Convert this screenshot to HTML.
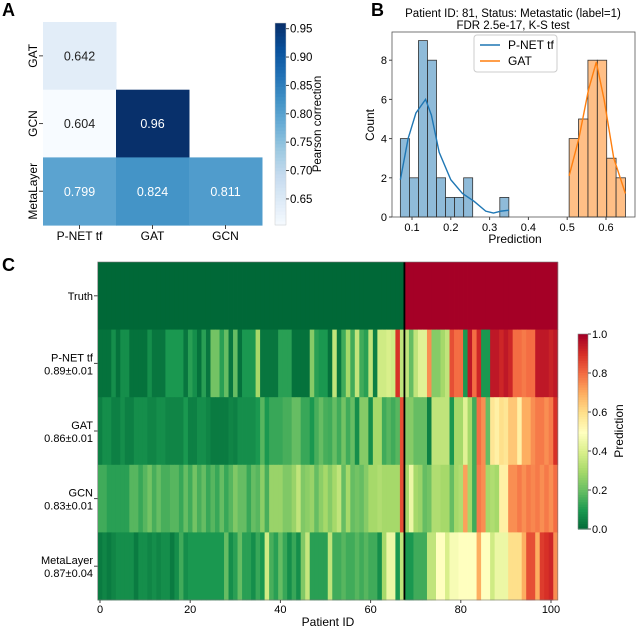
<!DOCTYPE html>
<html><head><meta charset="utf-8"><style>
html,body{margin:0;padding:0;background:#fff}
svg{display:block;font-family:"Liberation Sans",Arial,sans-serif}
</style></head><body>
<svg id="fig" width="640" height="628" viewBox="0 0 640 628"></svg>
<script>
// ---------- Panel A data ----------
const corrRows = ["GAT","GCN","MetaLayer"];
const corrCols = ["P-NET tf","GAT","GCN"];
const corrVals = [[0.642,null,null],[0.604,0.96,null],[0.799,0.824,0.811]];
const corrTicks = [0.65,0.70,0.75,0.80,0.85,0.90,0.95];
// ---------- Panel B data ----------
const pnetBinStart = 0.07, pnetBinW = 0.0233;
const pnetCounts = [4,2,9,8,2,1,1,2,0,0,0,1];
const gatBinStart = 0.505, gatBinW = 0.0242;
const gatCounts = [4,5,8,8,3,2];
const pnetKdeX = [0.07,0.09,0.11,0.135,0.15,0.17,0.2,0.23,0.26,0.29,0.31,0.33,0.35];
const pnetKdeY = [1.9,4.0,5.3,6.0,5.2,3.3,1.9,1.2,0.8,0.3,0.2,0.3,0.35];
const gatKdeX = [0.505,0.53,0.555,0.575,0.595,0.62,0.65];
const gatKdeY = [2.1,4.0,6.5,7.9,6.0,3.0,1.2];
const histXTicks = [0.1,0.2,0.3,0.4,0.5,0.6];
const histYTicks = [0,2,4,6,8];
// ---------- Panel C data ----------
const truth = [0,0,0,0,0,0,0,0,0,0,0,0,0,0,0,0,0,0,0,0,0,0,0,0,0,0,0,0,0,0,0,0,0,0,0,0,0,0,0,0,0,0,0,0,0,0,0,0,0,0,0,0,0,0,0,0,0,0,0,0,0,0,0,0,0,0,0,0,1,1,1,1,1,1,1,1,1,1,1,1,1,1,1,1,1,1,1,1,1,1,1,1,1,1,1,1,1,1,1,1,1,1];
const pnetPred = [0.02,0.02,0.02,0.08,0.02,0.08,0.08,0.02,0.02,0.02,0.02,0.08,0.03,0.03,0.03,0.1,0.1,0.1,0.1,0.03,0.12,0.08,0.02,0.12,0.03,0.22,0.22,0.12,0.2,0.03,0.2,0.02,0.1,0.1,0.1,0.3,0.03,0.03,0.03,0.03,0.12,0.12,0.12,0.02,0.02,0.02,0.02,0.25,0.12,0.1,0.1,
0.02,0.35,0.03,0.15,0.3,0.15,0.35,0.15,0.12,0.35,0.05,0.38,0.38,0.4,0.38,0.9,0.35,0.35,0.2,0.35,0.42,0.42,0.75,0.25,0.25,0.3,0.35,0.85,0.8,0.8,0.1,0.95,0.8,0.92,0.1,0.1,0.95,0.95,0.92,0.95,0.92,0.8,0.8,0.78,0.8,0.8,0.95,0.95,0.95,0.93,0.95];
const gatPred = [0.05,0.08,0.08,0.05,0.05,0.08,0.05,0.05,0.08,0.08,0.08,0.06,0.06,0.08,0.08,0.06,0.06,0.06,0.06,0.1,0.05,0.05,0.08,0.08,0.06,0.04,0.04,0.04,0.04,0.06,0.05,0.08,0.08,0.08,0.08,0.1,0.18,0.1,0.14,0.14,0.14,0.16,0.16,0.2,0.2,0.14,0.14,0.1,0.16,0.2,0.16,
0.15,0.2,0.15,0.22,0.15,0.2,0.08,0.25,0.25,0.08,0.3,0.3,0.15,0.18,0.15,0.18,0.85,0.25,0.25,0.2,0.2,0.2,0.05,0.35,0.35,0.35,0.35,0.1,0.3,0.3,0.42,0.3,0.15,0.8,0.75,0.2,0.58,0.55,0.6,0.58,0.65,0.65,0.55,0.7,0.7,0.75,0.78,0.78,0.75,0.78,0.9];
const gcnPred = [0.15,0.15,0.12,0.12,0.12,0.12,0.12,0.18,0.18,0.14,0.18,0.22,0.16,0.2,0.16,0.16,0.18,0.18,0.14,0.2,0.15,0.22,0.16,0.2,0.14,0.18,0.14,0.2,0.14,0.18,0.24,0.2,0.2,0.14,0.2,0.18,0.26,0.16,0.28,0.28,0.28,0.24,0.24,0.28,0.35,0.24,0.26,0.28,0.2,0.26,0.3,
0.25,0.3,0.35,0.2,0.3,0.2,0.22,0.2,0.25,0.3,0.3,0.32,0.3,0.3,0.3,0.3,0.85,0.3,0.45,0.3,0.28,0.2,0.22,0.32,0.32,0.3,0.3,0.2,0.3,0.32,0.72,0.3,0.15,0.78,0.75,0.3,0.32,0.3,0.55,0.55,0.75,0.75,0.78,0.75,0.78,0.76,0.78,0.75,0.78,0.75,0.8];
const metaPred = [0.04,0.06,0.04,0.06,0.08,0.08,0.08,0.08,0.04,0.08,0.08,0.06,0.08,0.06,0.08,0.08,0.04,0.08,0.15,0.08,0.1,0.1,0.1,0.1,0.1,0.1,0.1,0.1,0.2,0.08,0.12,0.2,0.12,0.12,0.08,0.14,0.1,0.38,0.16,0.12,0.2,0.14,0.08,0.14,0.08,0.24,0.36,0.12,0.12,0.12,0.12,
0.35,0.15,0.15,0.18,0.15,0.15,0.18,0.15,0.18,0.15,0.15,0.08,0.3,0.45,0.45,0.1,0.35,0.1,0.1,0.15,0.15,0.15,0.35,0.35,0.5,0.5,0.4,0.48,0.48,0.5,0.5,0.5,0.5,0.7,0.5,0.5,0.38,0.45,0.45,0.45,0.6,0.6,0.6,0.7,0.85,0.85,0.7,0.88,0.9,0.92,0.75];
const rowLabels = ["Truth","P-NET tf","GAT","GCN","MetaLayer"];
const rowScores = ["","0.89±0.01","0.86±0.01","0.83±0.01","0.87±0.04"];
const patientTicks = [0,20,40,60,80,100];
const predTicks = [0.0,0.2,0.4,0.6,0.8,1.0];

const NS="http://www.w3.org/2000/svg";
const svg=document.getElementById('fig');
function mk(tag,attrs,parent,text){const e=document.createElementNS(NS,tag);for(const k in attrs)e.setAttribute(k,attrs[k]);if(text!==undefined)e.textContent=text;(parent||svg).appendChild(e);return e;}
function lerpMap(stops,t){t=Math.max(0,Math.min(1,t));const n=stops.length-1;const p=t*n;const i=Math.min(n-1,Math.floor(p));const f=p-i;const a=stops[i],b=stops[i+1];return `rgb(${Math.round(a[0]+(b[0]-a[0])*f)},${Math.round(a[1]+(b[1]-a[1])*f)},${Math.round(a[2]+(b[2]-a[2])*f)})`;}
const BLUES=[[247,251,255],[222,235,247],[198,219,239],[158,202,225],[107,174,214],[66,146,198],[33,113,181],[8,81,156],[8,48,107]];
const RDYLGN_R=[[0,104,55],[26,152,80],[102,189,99],[166,217,106],[217,239,139],[255,255,191],[254,224,139],[253,174,97],[244,109,67],[215,48,39],[165,0,38]];

// Panel letters
let t;
t=mk('text',{x:2,y:16,'font-size':18,'font-weight':'bold'},svg,'A');
t=mk('text',{x:371,y:16,'font-size':18,'font-weight':'bold'},svg,'B');
t=mk('text',{x:2,y:271,'font-size':18,'font-weight':'bold'},svg,'C');

// ---------- Panel A ----------
(function(){
  const g=mk('g',{});
  const x0=43,y0=22,cw=73,ch=67.7,vmin=0.604,vmax=0.96;
  corrVals.forEach((row,r)=>row.forEach((v,c)=>{
    if(v===null)return;
    const tn=(v-vmin)/(vmax-vmin);
    const rc=mk('rect',{x:x0+c*cw,y:y0+r*ch,width:cw+0.5,height:ch+0.5,fill:lerpMap(BLUES,tn)},g);
    
    
    const tx=mk('text',{x:x0+c*cw+cw/2,y:y0+r*ch+ch/2+4.5,'font-size':12.5,'text-anchor':'middle',fill:tn>0.5?'#fff':'#222'},g,String(v));
    
  }));
  corrRows.forEach((l,r)=>{const cy=y0+r*ch+ch/2;mk('line',{x1:39,x2:43,y1:cy,y2:cy,stroke:'#444'},g);
    const tx=mk('text',{x:0,y:0,'font-size':12,'text-anchor':'middle',transform:`translate(37,${cy}) rotate(-90)`},g,l);
    });
  corrCols.forEach((l,c)=>{const cx=x0+c*cw+cw/2;mk('line',{x1:cx,x2:cx,y1:225,y2:229,stroke:'#444'},g);
    const tx=mk('text',{x:cx,y:240,'font-size':12,'text-anchor':'middle'},g,l);
    });
  // colorbar
  const cb=mk('g',{});
  const cbx=275,cbTop=23,cbBot=225;
  for(let i=0;i<60;i++){const y=cbTop+(cbBot-cbTop)*i/60;mk('rect',{x:cbx,y:y,width:11,height:(cbBot-cbTop)/60+0.6,fill:lerpMap(BLUES,1-i/60)},cb);}
  mk('rect',{x:cbx,y:cbTop,width:11,height:cbBot-cbTop,fill:'none',stroke:'#ccc','stroke-width':0.5},cb);
  corrTicks.forEach(v=>{const y=cbBot-(v-vmin)/(vmax-vmin)*(cbBot-cbTop);mk('line',{x1:286,x2:289,y1:y,y2:y,stroke:'#444'},cb);
    const tx=mk('text',{x:290,y:y+4,'font-size':11.5},cb,v.toFixed(2));});
  const lab=mk('text',{x:0,y:0,'font-size':11.5,'text-anchor':'middle',transform:'translate(321,124) rotate(-90)'},cb,'Pearson correction');
  
})();

// ---------- Panel B ----------
(function(){
  const g=mk('g',{});
  const L=392,R=635,T=32,B=217;
  const xs=v=>412+(v-0.1)*388, ys=c=>B-c*19.6;
  mk('rect',{x:L,y:T,width:R-L,height:B-T,fill:'#fff',stroke:'#555','stroke-width':0.8},g);
  pnetCounts.forEach((c,i)=>{if(!c)return;const x=xs(pnetBinStart+i*pnetBinW);
    const r=mk('rect',{x:x,y:ys(c),width:xs(pnetBinStart+(i+1)*pnetBinW)-x,height:B-ys(c),fill:'rgba(31,119,180,0.5)',stroke:'#333','stroke-width':0.8},g);
    });
  gatCounts.forEach((c,i)=>{if(!c)return;const x=xs(gatBinStart+i*gatBinW);
    const r=mk('rect',{x:x,y:ys(c),width:xs(gatBinStart+(i+1)*gatBinW)-x,height:B-ys(c),fill:'rgba(255,127,14,0.5)',stroke:'#333','stroke-width':0.8},g);
    });
  let p=mk('polyline',{points:pnetKdeX.map((x,i)=>xs(x)+','+ys(pnetKdeY[i])).join(' '),fill:'none',stroke:'#1f77b4','stroke-width':1.4},g);
  
  p=mk('polyline',{points:gatKdeX.map((x,i)=>xs(x)+','+ys(gatKdeY[i])).join(' '),fill:'none',stroke:'#ff7f0e','stroke-width':1.4},g);
  
  histXTicks.forEach(v=>{const x=xs(v);mk('line',{x1:x,x2:x,y1:B,y2:B+3,stroke:'#444'},g);
    const tx=mk('text',{x:x,y:B+14,'font-size':11,'text-anchor':'middle'},g,String(v));});
  histYTicks.forEach(v=>{const y=ys(v);mk('line',{x1:L-3,x2:L,y1:y,y2:y,stroke:'#444'},g);
    const tx=mk('text',{x:L-5,y:y+4,'font-size':11,'text-anchor':'end'},g,String(v));});
  t=mk('text',{x:515,y:243,'font-size':12,'text-anchor':'middle'},g,'Prediction');
  t=mk('text',{x:0,y:0,'font-size':12,'text-anchor':'middle',transform:'translate(374,125) rotate(-90)'},g,'Count');
  t=mk('text',{x:513,y:17,'font-size':11.5,'text-anchor':'middle'},g,'Patient ID: 81, Status: Metastatic (label=1)');
  t=mk('text',{x:513,y:29,'font-size':11.5,'text-anchor':'middle'},g,'FDR 2.5e-17, K-S test');
  const lg=mk('g',{},g);
  mk('rect',{x:474,y:35,width:83,height:37,rx:3,fill:'#fff',stroke:'#ccc'},lg);
  mk('line',{x1:480,x2:500,y1:45,y2:45,stroke:'#1f77b4','stroke-width':1.4},lg);
  t=mk('text',{x:508,y:49,'font-size':12},lg,'P-NET tf');
  mk('line',{x1:480,x2:500,y1:61,y2:61,stroke:'#ff7f0e','stroke-width':1.4},lg);
  t=mk('text',{x:508,y:65,'font-size':12},lg,'GAT');
})();

// ---------- Panel C ----------
(function(){
  const g=mk('g',{});
  const xs=i=>100+i*4.51, T=262, rh=67.6;
  const rows=[truth,pnetPred,gatPred,gcnPred,metaPred];
  rows.forEach((vals,r)=>{vals.forEach((v,i)=>{
    const c=mk('rect',{x:xs(i-0.5),y:T+r*rh,width:4.51+0.4,height:rh+0.4,fill:lerpMap(RDYLGN_R,v)},g);
    
    
  });
    const cy=T+r*rh+rh/2;mk('line',{x1:94,x2:98,y1:cy,y2:cy,stroke:'#444'},g);
    if(rowScores[r]){
      t=mk('text',{x:93,y:cy-2,'font-size':11,'text-anchor':'end'},g,rowLabels[r]);
      t=mk('text',{x:93,y:cy+11,'font-size':11,'text-anchor':'end'},g,rowScores[r]);
    } else {t=mk('text',{x:93,y:cy+4,'font-size':11,'text-anchor':'end'},g,rowLabels[r]);}
  });
  const splitIdx=truth.indexOf(1);
  const ln=mk('line',{x1:xs(splitIdx-0.5),x2:xs(splitIdx-0.5),y1:T,y2:T+5*rh,stroke:'#000','stroke-width':1.8},g);
  
  mk('rect',{x:xs(-0.5),y:T,width:xs(truth.length-0.5)-xs(-0.5),height:5*rh,fill:'none',stroke:'#777','stroke-width':0.6},g);
  patientTicks.forEach(v=>{const x=xs(v);mk('line',{x1:x,x2:x,y1:600,y2:603,stroke:'#444'},g);
    const tx=mk('text',{x:x,y:613,'font-size':11,'text-anchor':'middle'},g,String(v));});
  t=mk('text',{x:328,y:626,'font-size':12,'text-anchor':'middle'},g,'Patient ID');
  const cb=mk('g',{});
  const top=334,bot=529;
  for(let i=0;i<80;i++){const y=top+(bot-top)*i/80;mk('rect',{x:578,y:y,width:10,height:(bot-top)/80+0.6,fill:lerpMap(RDYLGN_R,1-i/80)},cb);}
  mk('rect',{x:578,y:top,width:10,height:bot-top,fill:'none',stroke:'#888','stroke-width':0.6},cb);
  predTicks.forEach(v=>{const y=bot-v*(bot-top);mk('line',{x1:588,x2:591,y1:y,y2:y,stroke:'#444'},cb);
    const tx=mk('text',{x:592,y:y+4,'font-size':11},cb,v.toFixed(1));});
  t=mk('text',{x:0,y:0,'font-size':12,'text-anchor':'middle',transform:'translate(623,431) rotate(-90)'},cb,'Prediction');
})();
</script>
</body></html>
